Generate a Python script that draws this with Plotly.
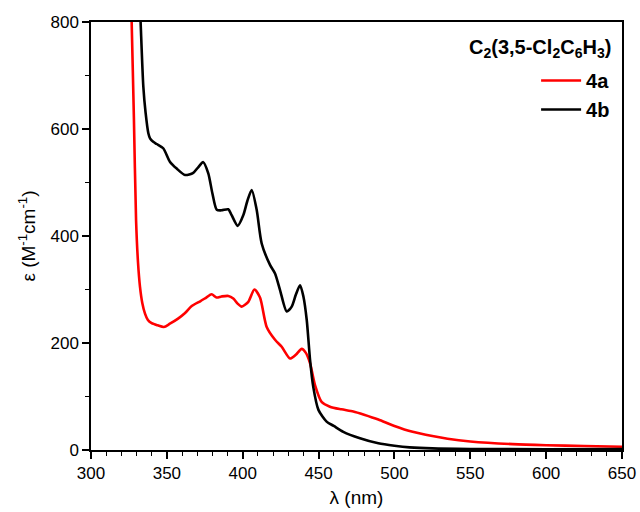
import plotly.graph_objects as go

# 4a (red)
wl_4a = [325, 326.8, 328.3, 329.7, 331, 332.3, 333.8, 335.6, 337.5, 340, 344, 348, 352,
         357.6, 362, 366.4, 372, 376, 379.5, 382.8, 386, 390.5, 393.8, 396.5, 399.3,
         403.7, 407.7, 411.4, 415.8, 421.3, 425.7, 431.2, 435, 438.9, 441.5, 444.4,
         447.7, 452, 457.5, 465, 472.9, 480, 489.4, 500, 512, 525, 535, 550, 578, 600,
         625, 650]
eps_4a = [1000, 800, 617, 430, 350, 305, 275, 255, 243, 237, 233, 230, 236,
          246, 256, 269, 278, 285, 291, 285, 287, 288, 283, 274, 268,
          277, 300, 285, 230, 206, 193, 171, 178, 189, 182, 162,
          121, 90, 81, 76, 72, 66, 57, 45, 34, 26, 21, 16, 11, 9,
          7.5, 6]

# 4b (black)
wl_4b = [330, 332.7, 334.5, 336, 337.8, 339, 341, 343.3, 347.6, 352, 356.5, 362, 367.4,
         370.5, 374, 377.3, 380, 382.9, 386, 390.5, 392.7, 396.7, 400.4, 403, 405.9,
         409.2, 412.5, 418, 421.3, 424.6, 429, 432.3, 435, 437.8, 440, 442.2, 444.4,
         446.5, 449.9, 455.3, 460, 466.3, 477.3, 489.4, 500, 510, 525, 550, 600, 650]
eps_4b = [1000, 800, 679, 630, 592, 582, 576, 572, 564, 539, 526, 514, 518,
          528, 538, 517, 480, 449, 448, 450, 439, 419, 439, 465, 486,
          449, 386, 346, 330, 299, 259, 268, 290, 308, 287, 243, 168,
          118, 75, 53, 45, 34, 22, 12.5, 8, 5, 3, 2, 1.5, 2]

x_ticks = [300, 350, 400, 450, 500, 550, 600, 650]
y_ticks = [0, 200, 400, 600, 800]

FONT = "Liberation Sans, Arial, sans-serif"

fig = go.Figure()
fig.add_trace(go.Scatter(x=wl_4a, y=eps_4a, mode="lines", name="<b>4a</b>",
                         line=dict(color="#ff0000", width=2.6, shape="spline", smoothing=0.7)))
fig.add_trace(go.Scatter(x=wl_4b, y=eps_4b, mode="lines", name="<b>4b</b>",
                         line=dict(color="#000000", width=2.6, shape="spline", smoothing=0.7)))

axis_common = dict(showgrid=False, zeroline=False, showline=True, linecolor="black",
                   linewidth=1.5, mirror=True, ticks="outside", tickcolor="black",
                   tickwidth=1.5, ticklen=7, automargin=False,
                   tickfont=dict(family=FONT, size=17, color="black"))

fig.update_xaxes(range=[300, 650], tickvals=x_ticks, ticktext=[str(v) for v in x_ticks],
                 minor=dict(dtick=10, ticks="outside", ticklen=4, tickwidth=1.2, tickcolor="black"),
                 title=dict(text="λ (nm)", font=dict(family=FONT, size=19, color="black"), standoff=9),
                 **axis_common)
fig.update_yaxes(range=[0, 800], tickvals=y_ticks, ticktext=[str(v) for v in y_ticks],
                 minor=dict(dtick=100, ticks="outside", ticklen=4, tickwidth=1.2, tickcolor="black"),
                 title=dict(text="ε (M<sup>-1</sup>cm<sup>-1</sup>)",
                            font=dict(family=FONT, size=19, color="black"), standoff=10),
                 **axis_common)

fig.add_annotation(xref="paper", yref="paper", x=0.983, y=0.939, xanchor="right", yanchor="middle",
                   showarrow=False,
                   text="<b>C<sub>2</sub>(3,5-Cl<sub>2</sub>C<sub>6</sub>H<sub>3</sub>)</b>",
                   font=dict(family=FONT, size=20, color="black"))

fig.update_layout(
    width=640, height=512,
    margin=dict(l=91, r=18, t=22, b=62, autoexpand=False),
    paper_bgcolor="white", plot_bgcolor="white",
    showlegend=True,
    legend=dict(x=0.987, y=0.909, xanchor="right", yanchor="top", bgcolor="rgba(0,0,0,0)",
                font=dict(family=FONT, size=20, color="black"), itemwidth=40,
                tracegroupgap=0),
)

post = ("document.documentElement.style.margin='0';"
        "document.documentElement.style.overflow='hidden';"
        "document.body.style.margin='0';"
        "document.body.style.overflow='hidden';"
        "document.body.style.height='512px';")
fig.write_html("out.html", config={"displayModeBar": False}, post_script=post)
